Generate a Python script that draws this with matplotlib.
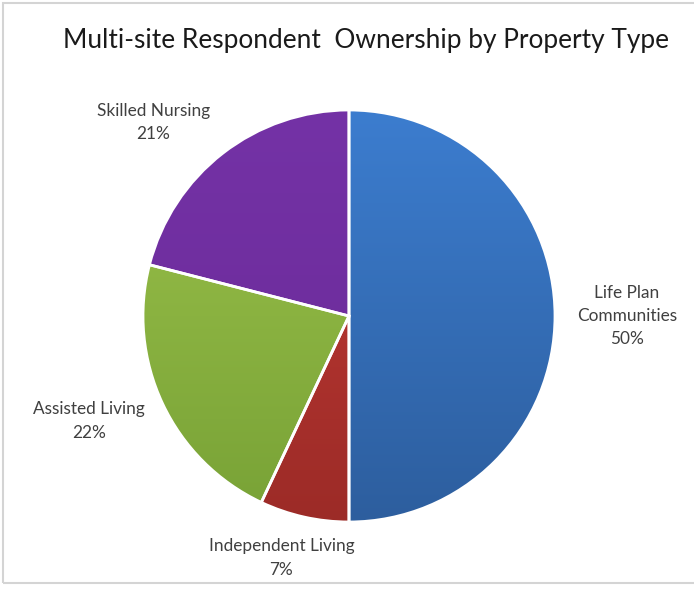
import numpy as np
import matplotlib.pyplot as plt
from matplotlib.colors import LinearSegmentedColormap
from matplotlib.patches import Rectangle

plt.rcParams['font.family'] = ['Lato', 'DejaVu Sans']

title = "Multi-site Respondent  Ownership by Property Type"
categories = ["Life Plan\nCommunities", "Independent Living", "Assisted Living", "Skilled Nursing"]
shares = [50, 7, 22, 21]

# top / bottom colour of each slice's vertical gradient
top_colors = ["#3c7dcf", "#c43b36", "#9cc24b", "#7432a6"]
bottom_colors = ["#2d5e9e", "#9c2b27", "#78a236", "#6a2a97"]

# label placement: distance from centre (in radii) and angle nudge (deg)
label_dist = [1.35, 1.22, 1.36, 1.335]
label_nudge = [0, -3, -3.2, 7.6]

fig = plt.figure(figsize=(6.94, 5.89), dpi=100)
ax = fig.add_axes([0, 0, 1, 1])

wedges, _ = ax.pie(shares, startangle=90, counterclock=False, radius=1,
                   wedgeprops=dict(edgecolor="white", linewidth=2))

# fill each wedge with a vertical gradient clipped to its outline
grad = np.linspace(0, 1, 256).reshape(-1, 1)
for w, c_top, c_bot in zip(wedges, top_colors, bottom_colors):
    cmap = LinearSegmentedColormap.from_list("g", [c_bot, c_top])
    w.set_facecolor("none")
    im = ax.imshow(grad, cmap=cmap, extent=(-1, 1, -1, 1), origin="lower",
                   aspect="auto", zorder=w.get_zorder() - 0.1)
    im.set_clip_path(w)

total = sum(shares)
for w, name, v, d, nudge in zip(wedges, categories, shares, label_dist, label_nudge):
    ang = np.deg2rad((w.theta1 + w.theta2) / 2 + nudge)
    ax.text(d * np.cos(ang), d * np.sin(ang), f"{name}\n{v / total:.0%}",
            ha="center", va="center", fontsize=12.4, color="#404040",
            linespacing=1.55)

ax.set_xlim(-349 / 206, 345 / 206)
ax.set_ylim(-273 / 206, 316 / 206)
ax.set_aspect("auto")
ax.axis("off")

fig.text(366 / 694, 0.932, title, ha="center", va="center", fontsize=18.9, color="#1a1a1a")

# light frame around the chart area
fig.patches.append(Rectangle((3 / 694, 6 / 589), 700 / 694, 580 / 589,
                             transform=fig.transFigure, fill=False,
                             edgecolor="#d4d4d4", linewidth=1.5))

fig.savefig("out.png", dpi=100)
